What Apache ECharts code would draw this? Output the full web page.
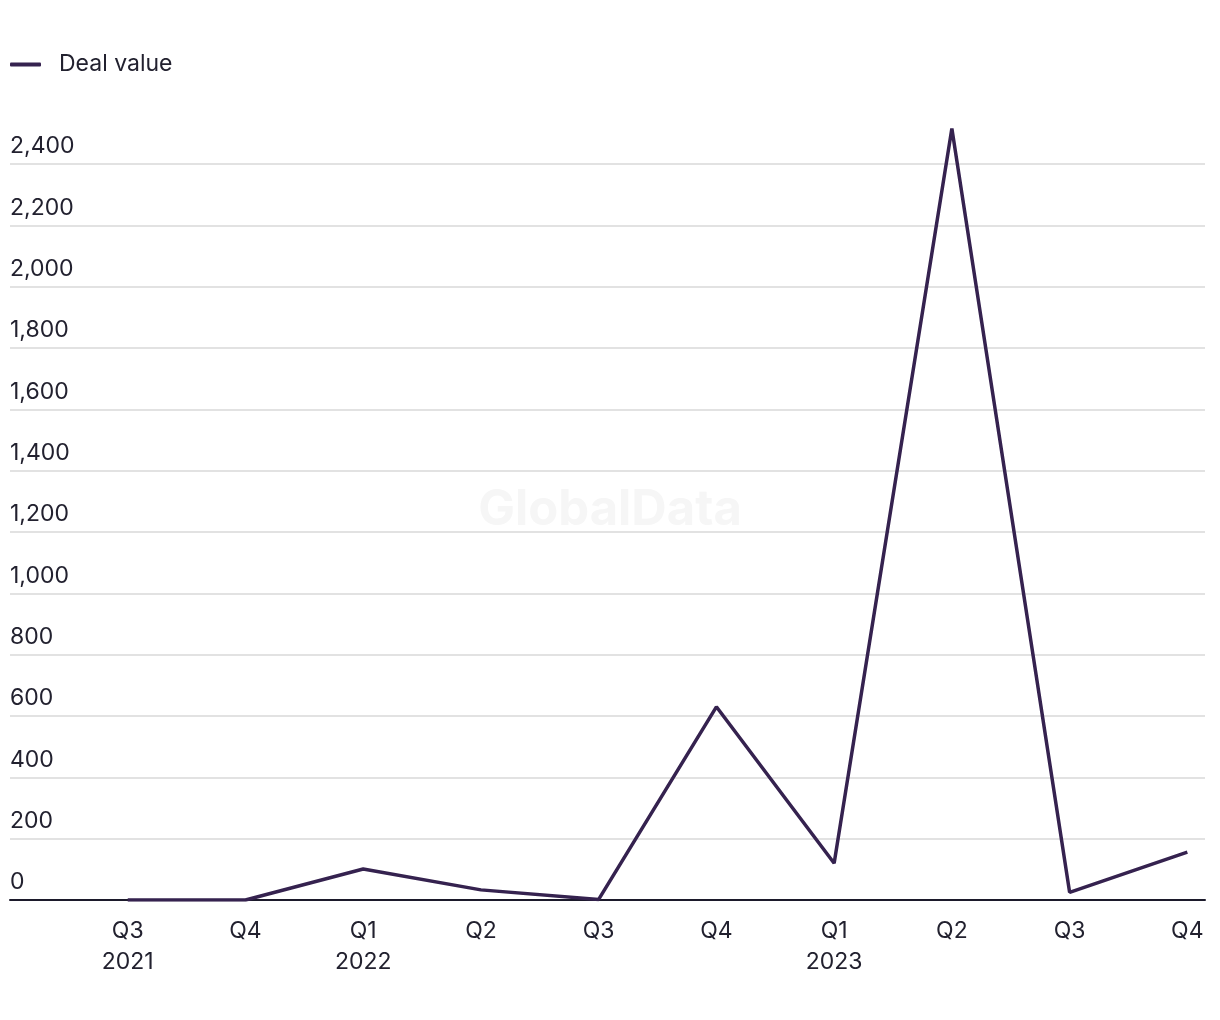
<!DOCTYPE html>
<html>
<head>
<meta charset="utf-8">
<script src="https://cdn.jsdelivr.net/npm/echarts@6/dist/echarts.min.js"></script>
<style>
html,body{margin:0;padding:0;background:#fff;}
#chart{width:1220px;height:1020px;}
</style>
</head>
<body>
<div id="chart"></div>
<script>
const quarters = ['Q3', 'Q4', 'Q1', 'Q2', 'Q3', 'Q4', 'Q1', 'Q2', 'Q3', 'Q4'];
const years = ['2021', '', '2022', '', '', '', '2023', '', '', ''];
const dealValue = [0, 0, 101, 33, 2, 630, 120, 2516, 25, 156];
const yTicks = [0, 200, 400, 600, 800, 1000, 1200, 1400, 1600, 1800, 2000, 2200, 2400];

const FONT = 'Inter, "Noto Sans", sans-serif';
const TEXT = '#22212f';
const LINE = '#35224f';

const chart = echarts.init(document.getElementById('chart'));
const gridColors = yTicks.map(() => '#d9d9d9');
gridColors.push('rgba(0,0,0,0)');

chart.setOption({
  animation: false,
  textStyle: { fontFamily: FONT },
  graphic: [{
    type: 'text',
    left: 'center',
    top: 486,
    z: -1,
    style: { text: 'GlobalData', fontFamily: FONT, fontWeight: 'bold', fontSize: 49, fill: '#f6f6f6' }
  }],
  legend: {
    left: 5,
    top: 48,
    icon: 'roundRect',
    itemWidth: 31,
    itemHeight: 4,
    textStyle: { color: TEXT, fontSize: 23, fontFamily: FONT, padding: [0, 0, 0, 13] },
    data: ['Deal value']
  },
  grid: { left: 10, right: 15, top: 900 - 13 * (736 / 12), bottom: 120, containLabel: false },
  xAxis: {
    type: 'value',
    min: -1,
    max: 9.15,
    interval: 1,
    splitLine: { show: false },
    axisTick: { show: false },
    axisLine: { show: true, lineStyle: { color: '#1c1a2b', width: 2 } },
    axisLabel: {
      color: TEXT,
      fontSize: 23,
      lineHeight: 31,
      margin: 16,
      showMinLabel: true,
      showMaxLabel: true,
      formatter: function (v) {
        const i = Math.round(v);
        if (Math.abs(v - i) > 1e-6 || i < 0 || i >= quarters.length) return '';
        return years[i] ? quarters[i] + '\n' + years[i] : quarters[i];
      }
    }
  },
  yAxis: {
    type: 'value',
    min: 0,
    max: 2600,
    interval: 200,
    axisLine: { show: false },
    axisTick: { show: false },
    splitLine: { show: true, lineStyle: { color: gridColors, width: 1.5 } },
    axisLabel: {
      inside: true,
      margin: 0,
      align: 'left',
      verticalAlign: 'bottom',
      padding: [0, 0, 6, 0],
      color: TEXT,
      fontSize: 23,
      formatter: function (v) {
        if (v > yTicks[yTicks.length - 1]) return '';
        return v.toLocaleString('en-US');
      }
    }
  },
  series: [{
    name: 'Deal value',
    type: 'line',
    data: dealValue.map((v, i) => [i, v]),
    symbol: 'none',
    lineStyle: { color: LINE, width: 3.5 },
    itemStyle: { color: LINE },
    z: 3
  }]
});
</script>
</body>
</html>
